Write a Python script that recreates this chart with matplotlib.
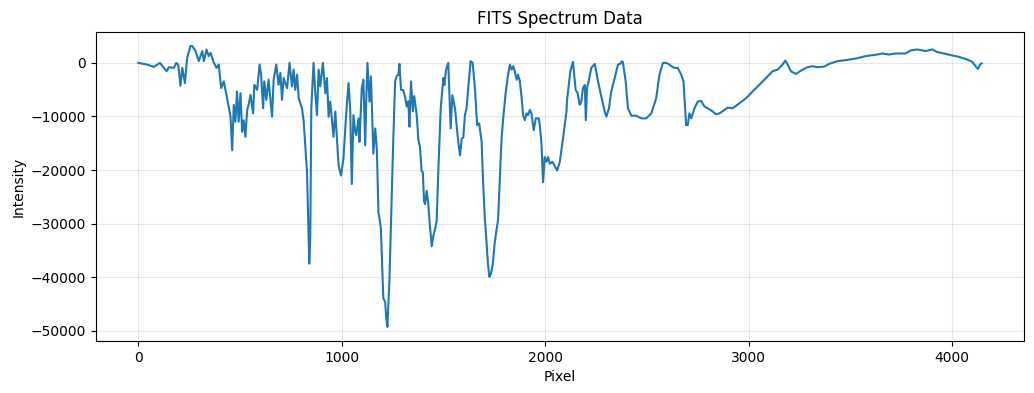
import matplotlib
matplotlib.use("Agg")
import matplotlib.pyplot as plt

pixel = [0, 45, 77, 107, 140, 151, 176, 187, 197, 208, 217, 230, 241, 257, 266, 282, 298, 315, 323, 336,
         347, 356, 369, 385, 396, 408, 421, 437, 454, 462, 470, 478, 486, 494,
         503, 511, 519, 527, 536, 543, 552, 565, 571, 585, 597, 604, 614, 620, 630, 641, 658, 666, 679, 690,
         699, 707, 715, 732, 744, 756, 764, 772, 781, 789, 805, 813, 830, 838, 841, 846, 851, 862, 870, 879,
         887, 895, 908, 920, 928, 936, 944, 960, 969, 985, 997, 1009, 1022, 1034, 1042, 1050, 1058, 1067,
         1072, 1083,
         1088, 1099, 1107, 1116, 1121, 1127, 1137, 1144, 1156, 1165, 1173, 1181, 1187, 1193, 1205, 1214, 1219,
         1225, 1235, 1247, 1254, 1263, 1271, 1279, 1284, 1292, 1303, 1312, 1320, 1328, 1333, 1341, 1350, 1357,
         1369, 1377, 1385, 1393, 1399, 1405, 1410, 1418, 1426, 1434, 1443, 1450, 1459, 1467, 1475, 1487, 1500,
         1505, 1513, 1524, 1536, 1544, 1557, 1573, 1582,
         1590, 1598, 1606, 1614, 1622, 1634, 1644, 1655, 1666, 1676, 1688, 1696, 1704, 1712, 1719, 1726, 1734,
         1743, 1753, 1769, 1786, 1794, 1807, 1818, 1827, 1835, 1843, 1851, 1860, 1867, 1876, 1884, 1892, 1900,
         1909, 1916, 1925, 1933, 1944, 1954, 1969, 1974, 1982, 1990, 1998, 2007, 2015, 2023, 2036, 2047, 2059,
         2072, 2088, 2105, 2108,
         2124, 2137, 2150, 2160, 2170, 2178, 2186, 2195, 2200, 2206, 2214, 2227, 2244, 2260, 2276, 2293, 2301,
         2314, 2325, 2342, 2358, 2371, 2376, 2382, 2396, 2407, 2424, 2448, 2473, 2497, 2522, 2546, 2562, 2579,
         2595, 2611,
         2620, 2636, 2652, 2669, 2680, 2693, 2701, 2709, 2718, 2734, 2750, 2767, 2783, 2799, 2824, 2840, 2857,
         2881, 2897, 2922, 2955, 2988, 3020, 3053, 3086, 3118, 3143, 3167, 3180, 3190, 3208, 3233, 3257, 3290,
         3314, 3339, 3371, 3396, 3437, 3478, 3527, 3576, 3633, 3657, 3690, 3723, 3772, 3796, 3829, 3870, 3903,
         3927, 3960, 3993, 4033, 4074, 4099, 4115, 4127, 4140, 4146]

intensity = [0, -320, -750, 0, -1560, -810, -940, 0, -320, -4270, -940, -3770, 940, 3140, 3140, 2200, 320, 2200, 320, 2500,
             1260, 1880, 320, -940, -320, -4710, -3450, -6590, -10040, -16330, -7850, -10980, -5330, -10980,
             -5650, -12860, -10730, -13800, -8790, -7850, -5970, -9420, -4090, -5030, -320, -2010, -8470, -3450, -6910, -3140, -10040, -3140, -320, -4090,
             -1880, -6910, -2820, -4710, 0, -4390, -1260, -5030, -2200, -6590, -8470, -10680, -20390, -32630, -37470, -32580, -8470, 0, -5330, -9740,
             -1260, -4390, 0, -5650, -2820, -10040, -7210, -13800, -9090, -19150, -21030, -17890, -9740, -3770, -8470, -22600, -9740, -12860,
             -13500, -10360,
             -14740, -4710, -3140, -15380, -6970, 0, -7210, -2500, -16950, -12240, -16010, -27930, -29190, -31070, -43930, -44630, -47450,
             -49280, -40480, -23540, -14120, -3450, -2450, -2200, -190, -5030, -5080, -6400, -8150, -7160, -11920, -3450, -9040, -6210,
             -9740, -14310, -15690, -20150, -20390, -25800, -26360, -23860, -26360, -30500, -34210, -32390, -31070, -29560, -20390, -8470, -2820,
             -4140, -1320, 0, -12240, -6030, -8470, -14740, -17270,
             -14120, -13930, -9740, -8470, -4710, 320, 0, -4710, -11620, -11300, -14740, -22920, -29190, -33330, -37470, -39920, -39350,
             -37470, -33330, -29190, -14120, -10360, -5330, -2200, -320, -1260, -620, -1560, -3140, -2200, -3450, -6270, -9740, -10680,
             -9420, -9740, -8790, -9420, -12560, -10360, -10360, -11670, -15060, -22280, -17570, -18450, -17570, -18830, -18450, -19210, -20090,
             -18510, -14120, -9090, -6910,
             -1560, 190, -5030, -5650, -7850, -7210, -4710, -4140, -10680, -4710, -3390, -940, -190, -3450, -6270, -9090, -10040,
             -8470, -5330, -2820, -320, -130, 280, 190, -3450, -8470, -9850, -9850, -10360, -10360, -9420, -6590, -2200, 0,
             0, -320,
             -620, -940, -940, -2200, -3450, -11620, -11620, -9420, -10360, -8470, -7210, -7100, -8150, -8470, -9090, -9600, -9420,
             -8790, -8340, -8470, -7530, -6590, -5330, -4090, -2820, -1560, -1260, -320, 430, -190, -1560, -2070, -1450, -810,
             -620, -810, -700, -190, 320, 510, 810, 1260, 1560, 1750, 1560, 1750, 1750, 2320, 2500, 2200, 2500,
             2010, 1750, 1450, 1130, 620, 190, -620, -1130, -190, -100]

title = "FITS Spectrum Data"
xlabel = "Pixel"
ylabel = "Intensity"

fig, ax = plt.subplots(figsize=(10.34, 3.93), dpi=100)
fig.subplots_adjust(left=0.0928, right=0.9903, top=0.9186, bottom=0.1323)
ax.plot(pixel, intensity, color="#1f77b4", linewidth=1.5)
ax.set_title(title)
ax.set_xlabel(xlabel)
ax.set_ylabel(ylabel)
ax.grid(True, alpha=0.3)
fig.savefig("out.png", dpi=100)
